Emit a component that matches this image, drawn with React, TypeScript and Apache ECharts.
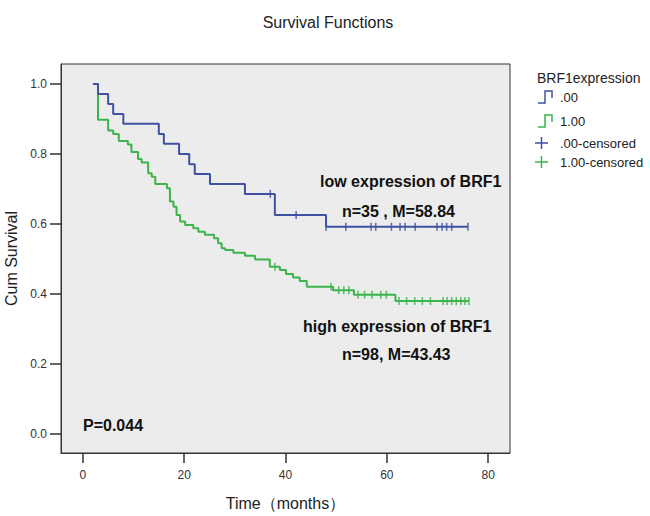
import React, { useEffect, useRef } from "react";
import * as echarts from "echarts";

const FONT = "'Liberation Sans', Arial, Helvetica, sans-serif";
const BLUE = "#3f51a3";
const GREEN = "#3cb44b";

const xTickValues = [0, 20, 40, 60, 80];
const yTickValues = [0, 0.2, 0.4, 0.6, 0.8, 1.0];

const blueTimes = [2.0, 3.0, 5.0, 6.0, 8.0, 15.0, 16.0, 19.0, 21.0, 22.1, 25.1, 32.0, 37.9, 48.0, 76.0];
const blueSurvival = [1.0, 0.971, 0.943, 0.914, 0.886, 0.857, 0.829, 0.8, 0.771, 0.743, 0.714, 0.686, 0.626, 0.592, 0.592];
const blueCensored = [37.0, 42.1, 48.0, 51.9, 56.9, 57.8, 60.9, 62.6, 63.6, 65.6, 69.9, 70.9, 71.8, 72.8, 76.0];

const greenTimes = [2.5, 3.0, 5.0, 6.0, 7.1, 8.9, 9.6, 10.9, 11.6, 12.9, 13.6, 14.3, 16.6, 17.2, 17.9, 18.5, 19.2, 20.2, 21.8, 22.8, 24.1, 25.9, 26.7, 27.4, 28.1, 29.7, 32.0, 34.0, 36.9, 38.9, 40.1, 41.5, 42.8, 44.2, 49.4, 53.5, 61.7, 76.2];
const greenSurvival = [1.0, 0.898, 0.867, 0.857, 0.837, 0.827, 0.806, 0.786, 0.776, 0.745, 0.735, 0.714, 0.702, 0.664, 0.649, 0.626, 0.607, 0.597, 0.588, 0.578, 0.569, 0.559, 0.545, 0.531, 0.526, 0.518, 0.509, 0.499, 0.478, 0.469, 0.457, 0.447, 0.437, 0.421, 0.411, 0.398, 0.38, 0.38];
const greenCensored = [37.9, 49.0, 50.5, 51.5, 52.5, 54.3, 55.6, 57.1, 58.8, 59.9, 62.4, 63.9, 65.5, 67.0, 68.6, 71.1, 71.9, 72.8, 73.7, 74.6, 75.4, 76.2];

const stepAt = (times: number[], surv: number[], t: number) => {
  let s = surv[0];
  for (let i = 0; i < times.length; i++) {
    if (times[i] <= t + 1e-9) s = surv[i];
  }
  return s;
};

export default function App() {
  const ref = useRef<HTMLDivElement>(null);
  useEffect(() => {
    if (!ref.current) return;
    const chart = echarts.init(ref.current, undefined, { renderer: "svg" });
    const axisCommon = {
      type: "value",
      axisLine: { show: true, onZero: false, lineStyle: { color: "#333", width: 1 } },
      splitLine: { show: false },
      nameLocation: "middle",
      nameTextStyle: { fontFamily: FONT, fontSize: 16, color: "#222" },
    };
    const boldText = (text: string, x: number, y: number) => ({
      type: "text",
      x,
      y,
      style: { text, fill: "#111", font: `bold 16px ${FONT}`, verticalAlign: "middle", align: "left" },
      z: 100,
    });
    const legendText = (text: string, x: number, y: number, size: number) => ({
      type: "text",
      x,
      y,
      style: { text, fill: "#222", font: `${size}px ${FONT}`, verticalAlign: "middle", align: "left" },
      z: 100,
    });
    const stepIcon = (color: string, yc: number) => ({
      type: "polyline",
      shape: {
        points: [
          [538, yc + 6],
          [545, yc + 6],
          [545, yc - 6],
          [552, yc - 6],
          [552, yc + 1],
        ],
      },
      style: { stroke: color, lineWidth: 1.5, fill: "none" },
      z: 100,
    });
    const plusIcon = (color: string, yc: number) => ({
      type: "group",
      children: [
        { type: "line", shape: { x1: 535, y1: yc, x2: 548, y2: yc }, style: { stroke: color, lineWidth: 1.5 } },
        { type: "line", shape: { x1: 541.5, y1: yc - 6, x2: 541.5, y2: yc + 6 }, style: { stroke: color, lineWidth: 1.5 } },
      ],
      z: 100,
    });
    chart.setOption({
      animation: false,
      backgroundColor: "#ffffff",
      title: {
        text: "Survival Functions",
        left: 323,
        top: 9,
        textAlign: "center",
        textStyle: { fontFamily: FONT, fontSize: 16, fontWeight: "normal", color: "#222" },
      },
      grid: {
        left: 61,
        right: 140,
        top: 64,
        bottom: 63,
        containLabel: false,
        outerBoundsMode: "none",
        show: true,
        backgroundColor: "#ececec",
        borderColor: "#333",
        borderWidth: 1,
      },
      xAxis: {
        ...axisCommon,
        min: -4.3,
        max: 84.3,
        name: "Time（months）",
        nameGap: 42,
        axisTick: { show: true, length: 10, customValues: xTickValues, lineStyle: { color: "#333", width: 1.5 } },
        axisLabel: { customValues: xTickValues, margin: 16, fontSize: 12, color: "#333", fontFamily: FONT },
      },
      yAxis: {
        ...axisCommon,
        min: -0.054,
        max: 1.057,
        name: "Cum Survival",
        nameGap: 39,
        axisTick: { show: true, length: 11, customValues: yTickValues, lineStyle: { color: "#333", width: 1.5 } },
        axisLabel: {
          customValues: yTickValues,
          margin: 14,
          fontSize: 12,
          color: "#333",
          fontFamily: FONT,
          formatter: (v: number) => v.toFixed(1),
        },
      },
      series: [
        {
          type: "line",
          step: "end",
          showSymbol: false,
          data: blueTimes.map((t, i) => [t, blueSurvival[i]]),
          lineStyle: { color: BLUE, width: 2 },
          z: 3,
        },
        {
          type: "line",
          step: "end",
          showSymbol: false,
          data: greenTimes.map((t, i) => [t, greenSurvival[i]]),
          lineStyle: { color: GREEN, width: 2 },
          z: 2,
        },
        {
          type: "scatter",
          symbol: "rect",
          symbolSize: [1.6, 8],
          data: blueCensored.map((t) => [t, stepAt(blueTimes, blueSurvival, t)]),
          itemStyle: { color: BLUE },
          z: 4,
        },
        {
          type: "scatter",
          symbol: "rect",
          symbolSize: [1.6, 8],
          data: greenCensored.map((t) => [t, stepAt(greenTimes, greenSurvival, t)]),
          itemStyle: { color: GREEN },
          z: 4,
        },
      ],
      graphic: [
        boldText("low expression of BRF1", 320, 181),
        boldText("n=35 , M=58.84", 342, 211),
        boldText("high expression of BRF1", 303, 326),
        boldText("n=98, M=43.43", 342, 354),
        boldText("P=0.044", 83, 425),
        legendText("BRF1expression", 537, 78, 14),
        stepIcon(BLUE, 97),
        legendText(".00", 560, 97, 13),
        stepIcon(GREEN, 121),
        legendText("1.00", 560, 121, 13),
        plusIcon(BLUE, 143),
        legendText(".00-censored", 560, 143, 13),
        plusIcon(GREEN, 162),
        legendText("1.00-censored", 560, 162, 13),
      ],
    });
    return () => chart.dispose();
  }, []);
  return <div ref={ref} style={{ position: "absolute", left: 0, top: 0, width: 650, height: 516 }} />;
}
